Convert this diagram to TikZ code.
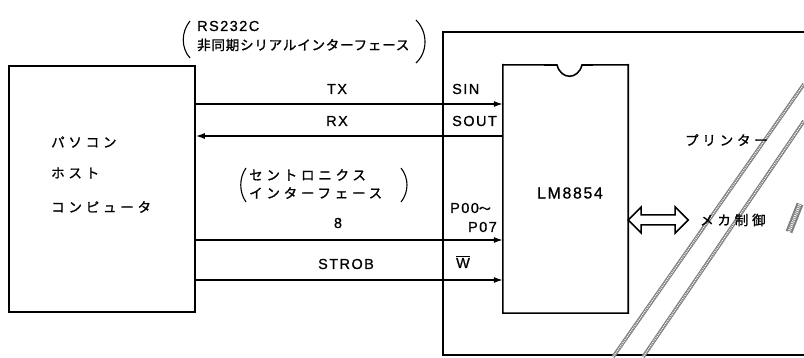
\documentclass[tikz,border=0pt]{standalone}
\usepackage{fontspec}
\setmainfont{Liberation Sans}
\newfontfamily\jpwide[LetterSpace=28,FakeBold=1.2]{Noto Sans CJK JP}
\newfontfamily\jpnarrow[LetterSpace=6,FakeBold=1.2]{Noto Sans CJK JP}
\newfontfamily\jpplain[FakeBold=1.2]{Noto Sans CJK JP}
\newfontfamily\latsp[LetterSpace=10,FakeBold=0.8]{Liberation Sans}
\usetikzlibrary{arrows.meta}
\begin{document}
\begin{tikzpicture}[x=1pt,y=-1pt,
  frame/.style={draw, line width=1.6pt},
  sig/.style={line width=1.4pt, -{Latex[length=9pt,width=6pt]}},
  lbl/.style={font=\latsp\fontsize{14.5}{14.5}\selectfont, inner sep=0pt},
  chiplbl/.style={font=\latsp\fontsize{16}{16}\selectfont, inner sep=0pt},
  jw/.style={font=\jpwide\fontsize{13.5}{13.5}\selectfont, inner sep=0pt, anchor=west},
  jn/.style={font=\jpnarrow\fontsize{13.5}{13.5}\selectfont, inner sep=0pt, anchor=west},
  paren/.style={draw, line width=1.1pt},
  brk/.style={line width=3.6pt, draw=black!50},
  brkdots/.style={line width=1.4pt, draw=white, dash pattern=on 0.8pt off 1.1pt}
]
\useasboundingbox (0,0) rectangle (804,358);

% host PC box
\node[frame, minimum width=186pt, minimum height=246pt, inner sep=0pt] (pc) at (102,189) {};
\node[jw] (pc1) at (51,142) {パソコン};
\node[jw] (pc2) at (51,173) {ホスト};
\node[jw] (pc3) at (51,207) {コンピュータ};

% printer frame (open to the right)
\coordinate (prtl) at (443,32);
\draw[frame] (804,32) -- (prtl) -- (443,355) -- (804,355);

% chip with notch
\node[minimum width=125pt, minimum height=248pt, inner sep=0pt] (chip) at (565.5,189) {};
\draw[frame] (chip.north west) -- (557,65) .. controls (561,80) and (578,80) .. (582,65)
  -- (chip.north east) -- (chip.south east) -- (chip.south west) -- cycle;
\node[chiplbl] (lm) at (570,193) {LM8854};

% break lines
\draw[brk] (613,357) -- (804,84);
\draw[brkdots] (613,357) -- (804,84);
\draw[brk] (643,357) -- (804,121);
\draw[brkdots] (643,357) -- (804,121);
\draw[brk, line width=7pt] (789,232) -- (800,204);
\draw[brkdots, line width=3pt] (789,232) -- (800,204);

% signals
\draw[sig] (pc.east |- 0,104) -- (chip.west |- 0,104);
\draw[sig] (chip.west |- 0,136) -- (pc.east |- 0,136);
\draw[sig] (pc.east |- 0,240) -- (chip.west |- 0,240);
\draw[sig] (pc.east |- 0,280) -- (chip.west |- 0,280);

\node[lbl] (tx) at (337,89) {TX};
\node[lbl] (rx) at (337,121) {RX};
\node[lbl] (n8) at (338,223) {8};
\node[lbl] (strob) at (346,264) {STROB};

\node[lbl, anchor=west] (sin) at (452,89) {SIN};
\node[lbl, anchor=west] (sout) at (452,121) {SOUT};
\node[lbl, anchor=west] (p00) at (450,208) {P00{\jpplain\fontsize{12}{12}\selectfont 〜}};
\node[lbl, anchor=east] (p07) at (497,227) {P07};
\node[lbl] (wbar) at (463,262) {$\overline{\hbox{W}}$};

% RS232C annotation
\node[lbl, anchor=west] (rs) at (197,26) {RS232C};
\node[jn] (rsj) at (197,45) {非同期シリアルインターフェース};
\draw[paren] (190,21) .. controls (181,32) and (181,48) .. (190,58);
\draw[paren] (416,20) .. controls (428,32) and (428,52) .. (416,63);

% Centronics annotation
\node[jw] (cen1) at (249,175) {セントロニクス};
\node[jw] (cen2) at (249,193) {インターフェース};
\draw[paren] (246,168) .. controls (239,178) and (239,192) .. (246,202);
\draw[paren] (401,168) .. controls (409,178) and (409,192) .. (401,202);

% mechanism control
\coordinate (da) at (chip.east |- 0,220);
\draw[line width=1.5pt, fill=white] (da) -- ++(13,-13) -- ++(0,8) -- ++(34,0) -- ++(0,-8)
  -- ++(13,13) -- ++(-13,13) -- ++(0,-8) -- ++(-34,0) -- ++(0,8) -- cycle;
\node[jw] (mecha) at (700,220) {メカ制御};
\node[jw] (prt) at (685,140) {プリンター};
\end{tikzpicture}
\end{document}
